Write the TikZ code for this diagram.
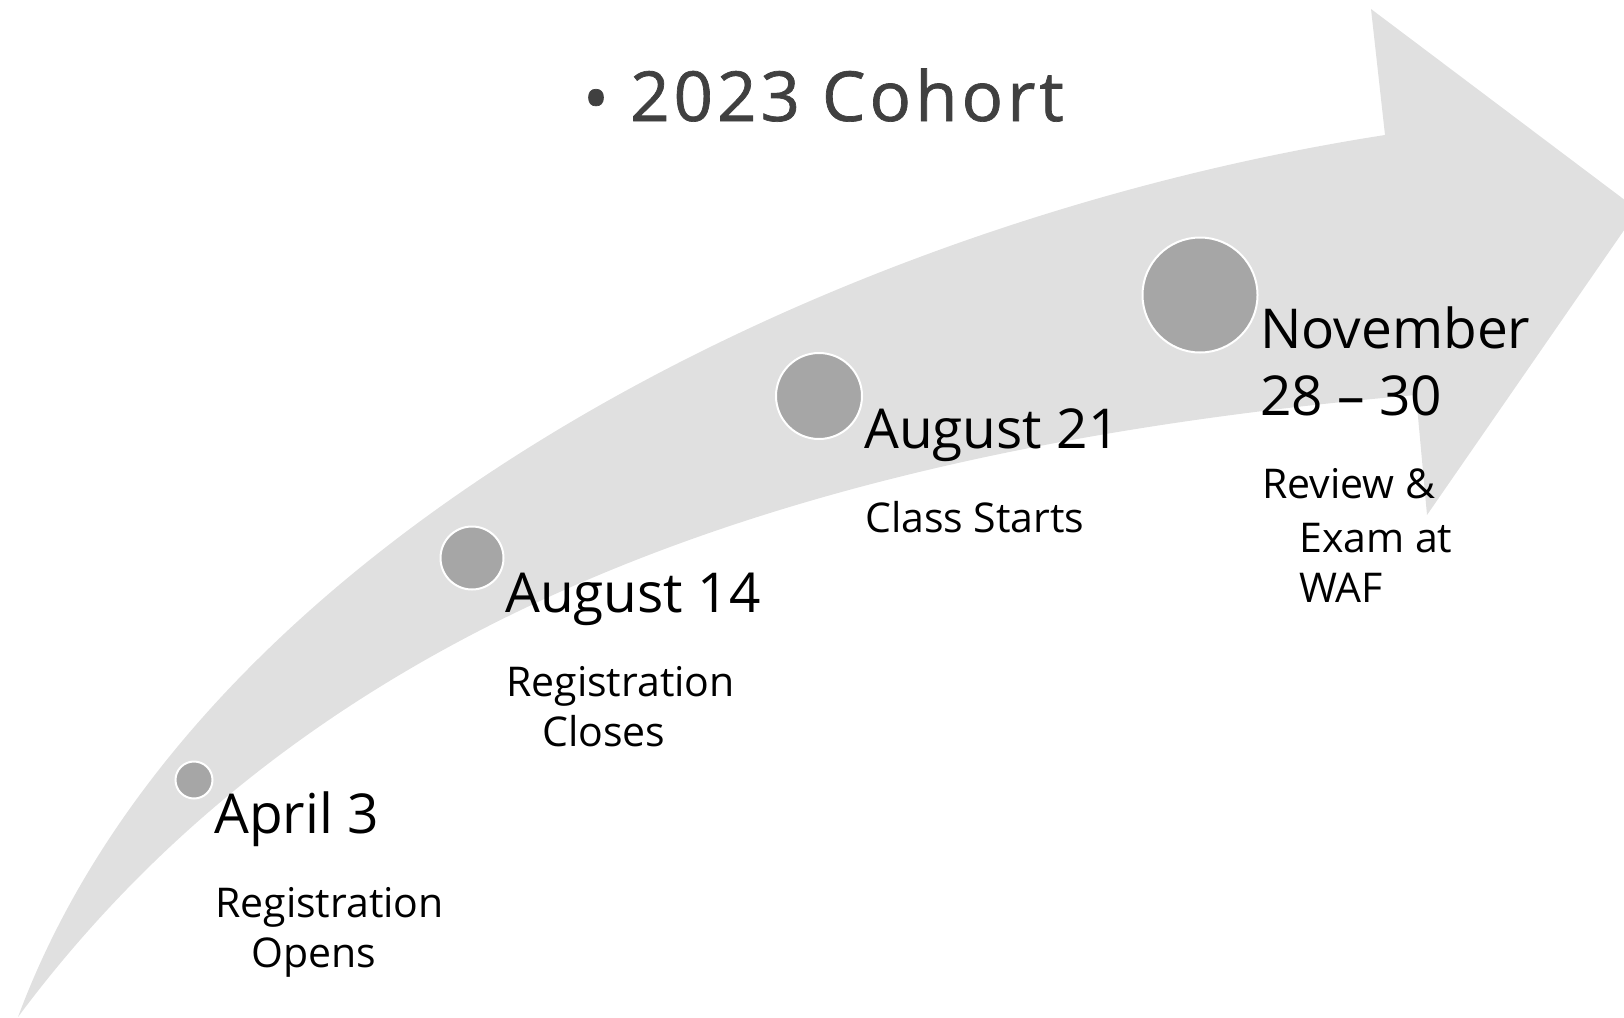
\documentclass[tikz,border=0pt]{standalone}
\usepackage{fontspec}
\setmainfont{Open Sans}
\newfontfamily\titlefont[LetterSpace=5.8,FakeBold=1]{Open Sans}
\definecolor{bandgray}{HTML}{E0E0E0}
\definecolor{dotgray}{HTML}{A6A6A6}
\definecolor{titlegray}{HTML}{404040}
\begin{document}
\begin{tikzpicture}[x=1pt,y=-1pt,
  dot/.style={circle, fill=dotgray, draw=white, line width=2pt, inner sep=0pt},
  datelbl/.style={anchor=base west, inner sep=0pt, font=\fontsize{55}{66}\selectfont},
  desclbl/.style={anchor=base west, inner sep=0pt, font=\fontsize{41}{50}\selectfont},
  titlelbl/.style={inner sep=0pt, text=titlegray, font=\titlefont\fontsize{69}{80}\selectfont}]
\useasboundingbox (0,0) rectangle (1624,1017);
\begin{scope}
\clip (0,0) rectangle (1624,1017);
\fill[bandgray] (18,1017) .. controls (195,540) and (825,222) .. (1385,135)
  -- (1371,9) -- (1638,210) -- (1427,515) -- (1416,395)
  .. controls (780,450) and (310,625) .. (18,1017) -- cycle;
\end{scope}
% milestones
\node[dot, minimum size=37pt] (c1) at (194,780) {};
\node[dot, minimum size=63pt] (c2) at (472,558) {};
\node[dot, minimum size=86pt] (c3) at (819,396) {};
\node[dot, minimum size=115pt] (c4) at (1200,295) {};
% title
\node[titlelbl, anchor=center] (bullet) at (596,106) {•};
\node[titlelbl, anchor=base west] (title) at (630,121) {2023 Cohort};
% labels
\node[datelbl] (d1) at (214,833) {April 3};
\node[desclbl] (d1a) at (215,917) {Registration};
\node[desclbl] (d1b) at (251,967) {Opens};
\node[datelbl] (d2) at (505,612) {August 14};
\node[desclbl] (d2a) at (506,696) {Registration};
\node[desclbl] (d2b) at (542,746) {Closes};
\node[datelbl] (d3) at (864,448) {August 21};
\node[desclbl] (d3a) at (865,532) {Class Starts};
\node[datelbl] (d4) at (1260,348) {November};
\node[datelbl] (d4b) at (1260,415) {28 – 30};
\node[desclbl] (d4c) at (1262,498) {Review \&};
\node[desclbl] (d4d) at (1299,552) {Exam at};
\node[desclbl] (d4e) at (1299,602) {WAF};
\end{tikzpicture}
\end{document}
